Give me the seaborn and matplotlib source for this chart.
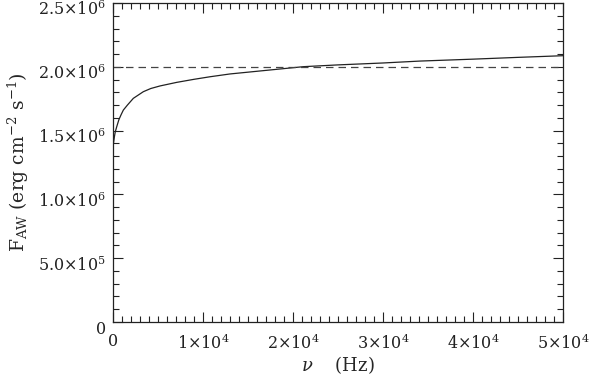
import numpy as np
import pandas as pd
import seaborn as sns
import matplotlib
matplotlib.use("Agg")
import matplotlib.pyplot as plt
import matplotlib.transforms as mtransforms
from matplotlib.ticker import MultipleLocator

# values
nu = [50, 150, 250, 411, 650, 900, 1148, 1600, 2259, 3370, 4200, 5222,
      7074, 9000, 10778, 13000, 16000, 21148, 25000, 30000, 34111, 40000,
      45000, 50000]
faw = [1.40e6, 1.45e6, 1.49e6, 1.53e6, 1.585e6, 1.625e6, 1.661e6, 1.70e6,
       1.753e6, 1.805e6, 1.83e6, 1.85e6, 1.878e6, 1.902e6, 1.922e6, 1.944e6,
       1.965e6, 2.001e6, 2.015e6, 2.03e6, 2.045e6, 2.06e6, 2.074e6, 2.087e6]
ref_level = 2.0e6

xticks = [0, 1e4, 2e4, 3e4, 4e4, 5e4]
xticklabels = ['0', r'1$\times$10$^4$', r'2$\times$10$^4$', r'3$\times$10$^4$',
               r'4$\times$10$^4$', r'5$\times$10$^4$']
yticks = [0, 5e5, 1e6, 1.5e6, 2e6, 2.5e6]
yticklabels = ['0', r'5.0$\times$10$^5$', r'1.0$\times$10$^6$',
               r'1.5$\times$10$^6$', r'2.0$\times$10$^6$', r'2.5$\times$10$^6$']

df = pd.DataFrame({'nu': nu, 'faw': faw})

sns.set_theme(style='ticks')
plt.rcParams['font.family'] = ['DejaVu Serif']
plt.rcParams['mathtext.fontset'] = 'dejavuserif'

fig = plt.figure(figsize=(5.92, 3.76), dpi=100)
ax = fig.add_axes([0.1909, 0.1436, 0.7601, 0.8484])

sns.lineplot(data=df, x='nu', y='faw', ax=ax, color='#222222', linewidth=0.9)
ax.axhline(ref_level, color='#444444', linewidth=0.9, linestyle=(0, (6, 4)))

ax.set_xlim(0, 5e4)
ax.set_ylim(0, 2.5e6)
ax.set_xticks(xticks)
ax.set_xticklabels(xticklabels)
ax.set_yticks(yticks)
ax.set_yticklabels(yticklabels)
ax.xaxis.set_minor_locator(MultipleLocator(1000))
ax.yaxis.set_minor_locator(MultipleLocator(1e5))

ax.tick_params(which='both', direction='in', top=True, right=True,
               labelsize=11.5, colors='#222222', width=0.8)
ax.tick_params(which='major', length=7, pad=5)
ax.tick_params(which='minor', length=4)
ax.tick_params(axis='x', which='major', pad=8)
for s in ax.spines.values():
    s.set_linewidth(0.9)
    s.set_color('#222222')

# IDL-style: y labels sit a bit below their tick
shift = mtransforms.ScaledTranslation(0, -5 / 100, fig.dpi_scale_trans)
for lab in ax.get_yticklabels():
    lab.set_transform(lab.get_transform() + shift)

ax.set_xlabel(r'$\nu$    (Hz)', fontsize=13, labelpad=1)
ax.set_ylabel(r'F$_{\rm AW}$ (erg cm$^{-2}$ s$^{-1}$)', fontsize=13.5, labelpad=5)

fig.savefig('out.png', dpi=100)
